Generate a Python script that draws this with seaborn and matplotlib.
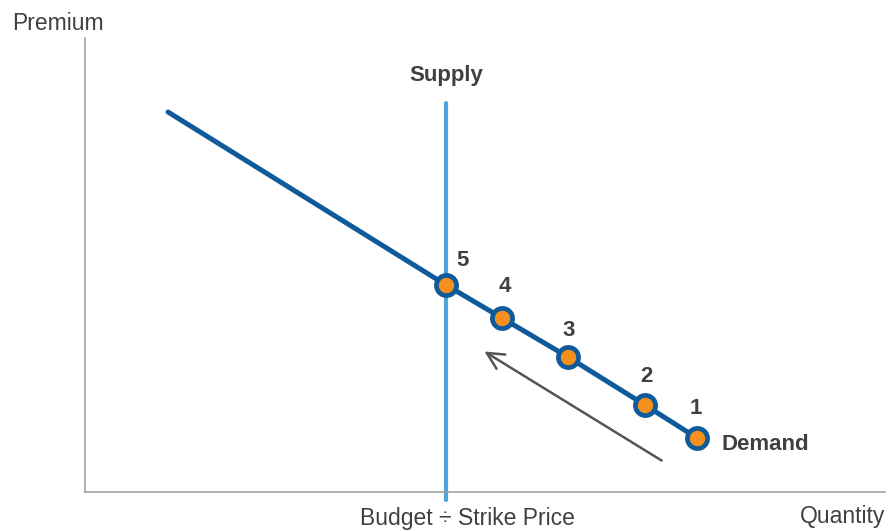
import matplotlib
matplotlib.use("Agg")
import matplotlib.pyplot as plt
import seaborn as sns
import pandas as pd

# demand curve (end of line + the 5 numbered points), units ~ pixels from origin
demand_x = [83, 361, 417, 483, 560, 612]
demand_y = [380, 207, 174, 135, 87, 54]
point_labels = ["", "5", "4", "3", "2", "1"]

# supply is vertical at Budget / Strike Price
supply_x = [361, 361]
supply_y = [389, -8]

# arrow showing movement along the demand curve
arrow_start = (579, 30)
arrow_end = (397, 142)

dark_blue = "#0e5a9a"
light_blue = "#4ea5da"
orange = "#f5901e"
txt = "#404040"

sns.set_style("white")
plt.rcParams["font.family"] = ["Liberation Sans", "DejaVu Sans"]

fig = plt.figure(figsize=(8.96, 5.31), dpi=100)
ax = fig.add_axes([85 / 896, 39 / 531, 800 / 896, 454 / 531])
ax.set_xlim(0, 800)
ax.set_ylim(0, 454)

df = pd.DataFrame({"x": demand_x, "y": demand_y, "lab": point_labels})
sup = pd.DataFrame({"x": supply_x, "y": supply_y})
sns.lineplot(data=sup, x="x", y="y", ax=ax, color=light_blue, linewidth=3.0,
             sort=False, estimator=None, clip_on=False, solid_capstyle="round")
sns.lineplot(data=df, x="x", y="y", ax=ax, color=dark_blue, linewidth=3.6,
             sort=False, estimator=None)

pts = df[df["lab"] != ""]
ax.scatter(pts["x"], pts["y"], s=210, color=orange, edgecolor=dark_blue,
           linewidth=3.4, zorder=5)

offsets = {"5": (17, 25), "4": (3, 32), "3": (1, 26), "2": (1, 28), "1": (-1, 30)}
for _, r in pts.iterrows():
    dx, dy = offsets[r["lab"]]
    ax.text(r["x"] + dx, r["y"] + dy, r["lab"], ha="center", va="center",
            fontsize=16, fontweight="bold", color=txt)

ax.text(supply_x[0], 417, "Supply", ha="center", va="center",
        fontsize=16, fontweight="bold", color=txt)
ax.text(680, 47, "Demand", ha="center", va="center",
        fontsize=16, fontweight="bold", color=txt)

ax.annotate("", xy=arrow_end, xytext=arrow_start,
            arrowprops=dict(arrowstyle="->", color="#555555", lw=1.8,
                            mutation_scale=30))

for s in ["top", "right"]:
    ax.spines[s].set_visible(False)
for s in ["left", "bottom"]:
    ax.spines[s].set_color("#9a9a9a")
    ax.spines[s].set_linewidth(1.1)
ax.set_xticks([])
ax.set_yticks([])
ax.set_xlabel("")
ax.set_ylabel("")

fig.text(12 / 896, 1 - 23 / 531, "Premium", ha="left", va="center",
         fontsize=16.5, color=txt)
fig.text(467 / 896, 1 - 519 / 531, "Budget \u00f7 Strike Price", ha="center",
         va="center", fontsize=16.5, color=txt)
fig.text(800 / 896, 1 - 517 / 531, "Quantity", ha="left", va="center",
         fontsize=16.5, color=txt)

fig.savefig("out.png", dpi=100)
